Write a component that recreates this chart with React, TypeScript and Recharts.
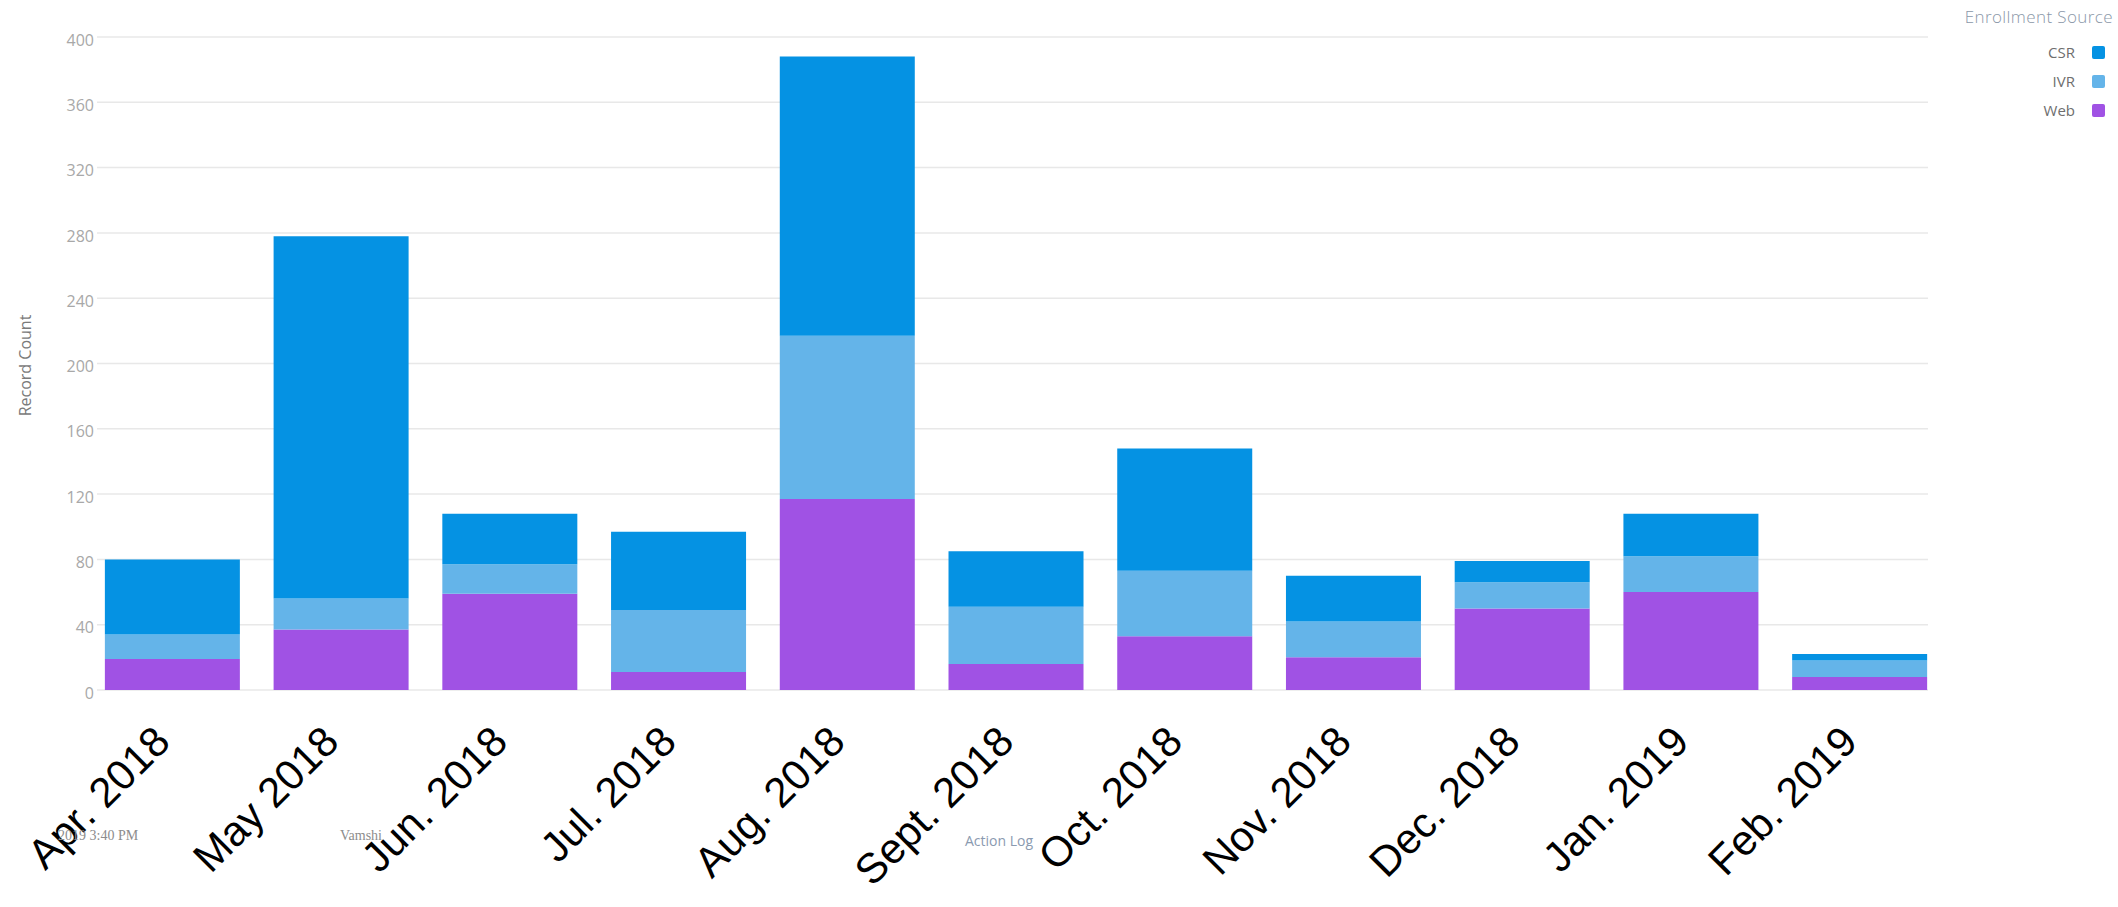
import React from 'react';
import { BarChart, Bar, XAxis, YAxis, CartesianGrid, Label } from 'recharts';

const months = ['Apr. 2018', 'May 2018', 'Jun. 2018', 'Jul. 2018', 'Aug. 2018', 'Sept. 2018', 'Oct. 2018', 'Nov. 2018', 'Dec. 2018', 'Jan. 2019', 'Feb. 2019'];
const csrValues = [46, 222, 31, 48, 171, 34, 75, 28, 13, 26, 4];
const ivrValues = [15, 19, 18, 38, 100, 35, 40, 22, 16, 22, 10];
const webValues = [19, 37, 59, 11, 117, 16, 33, 20, 50, 60, 8];
const yTicks = [0, 40, 80, 120, 160, 200, 240, 280, 320, 360, 400];

const seriesNames = ['CSR', 'IVR', 'Web'];
const seriesColors = ['#0592e3', '#64b4e9', '#a052e4'];

const data = months.map((m, i) => ({ month: m, CSR: csrValues[i], IVR: ivrValues[i], Web: webValues[i] }));

const XTick = (props: any) => {
  const { x, y, payload } = props;
  const ty = y + 54;
  return (
    <text x={x} y={ty} textAnchor="end" transform={`rotate(-45 ${x} ${ty})`} fontFamily="Arial, 'Liberation Sans', sans-serif" fontSize={42} fill="#000">
      {payload.value}
    </text>
  );
};

const YTick = (props: any) => {
  const { x, y, payload } = props;
  return (
    <text x={x + 6} y={y + 3} dy="0.35em" textAnchor="end" fontFamily="'Open Sans', sans-serif" fontSize={16} fill="#a8a8a8">
      {payload.value}
    </text>
  );
};

const YLabel = (props: any) => {
  const vb = props.viewBox || { x: 0, y: 0, width: 0, height: 0 };
  const cx = 25;
  const cy = vb.y + vb.height / 2 + 2;
  return (
    <text x={cx} y={cy} textAnchor="middle" dominantBaseline="central" transform={`rotate(-90 ${cx} ${cy})`} fontFamily="'Open Sans', sans-serif" fontSize={16} fill="#7a7a7a">
      Record Count
    </text>
  );
};

const legendCenters = [52, 81, 110];

export default function App() {
  const bottomToTop = [2, 1, 0];
  return (
    <div style={{ position: 'absolute', left: 0, top: 0, width: 2118, height: 907, background: '#fff', overflow: 'hidden' }}>
      <BarChart width={2118} height={907} data={data} margin={{ top: 37, right: 174, bottom: 0, left: 0 }} barCategoryGap="10%">
        <CartesianGrid vertical={false} stroke="#e8e8e8" strokeWidth={1.5} x={97} width={1831} />
        <XAxis dataKey="month" axisLine={false} tickLine={false} tickSize={0} tickMargin={0} height={217} interval={0} tick={<XTick />} />
        <YAxis domain={[0, 400]} ticks={yTicks} width={88} axisLine={false} tickLine={false} tickSize={0} tickMargin={0} tick={<YTick />}>
          <Label content={<YLabel />} />
        </YAxis>
        {bottomToTop.map((idx) => (
          <Bar key={seriesNames[idx]} dataKey={seriesNames[idx]} stackId="a" fill={seriesColors[idx]} isAnimationActive={false} />
        ))}
      </BarChart>

      <div style={{ position: 'absolute', right: 5, top: 5, fontFamily: "'Open Sans', sans-serif", fontSize: 17, fontWeight: 300, letterSpacing: 0.4, color: '#8a97a8', whiteSpace: 'nowrap' }}>
        Enrollment Source
      </div>
      {seriesNames.map((name, i) => (
        <div key={name} style={{ position: 'absolute', right: 13, top: legendCenters[i] - 10, height: 20, display: 'flex', alignItems: 'center', fontFamily: "'Open Sans', sans-serif", fontSize: 15, color: '#6e6e6e' }}>
          <span style={{ marginRight: 17 }}>{name}</span>
          <span style={{ display: 'inline-block', width: 13, height: 13, borderRadius: 2, background: seriesColors[i] }} />
        </div>
      ))}

      <div style={{ position: 'absolute', left: 58, top: 828, fontFamily: "'Liberation Serif', serif", fontSize: 14, color: '#8c8c8c', whiteSpace: 'nowrap' }}>2019 3:40 PM</div>
      <div style={{ position: 'absolute', left: 340, top: 828, fontFamily: "'Liberation Serif', serif", fontSize: 14, color: '#8c8c8c', whiteSpace: 'nowrap' }}>Vamshi</div>
      <div style={{ position: 'absolute', left: 965, top: 831, fontFamily: "'Open Sans', sans-serif", fontSize: 14, color: '#8a9ab0', whiteSpace: 'nowrap' }}>Action Log</div>
    </div>
  );
}
